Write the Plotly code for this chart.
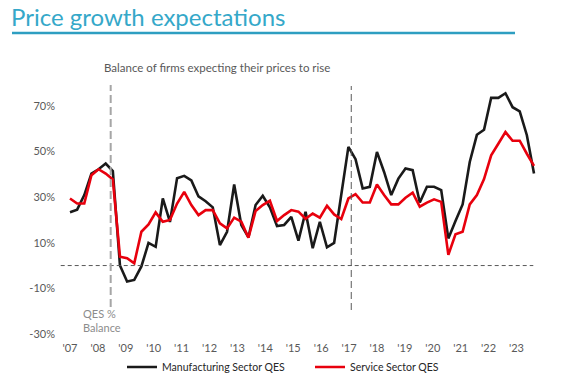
import plotly.graph_objects as go

# ---- Data (quarterly, from 2007) ----
manufacturing = [23.4, 24.5, 30.9, 40.3, 42.2, 44.7, 41.4, 0.0, -7.0, -6.3,
                 -0.4, 9.9, 8.2, 29.4, 19.1, 38.3, 39.3, 37.3, 30.3, 28.2,
                 25.5, 9.0, 14.8, 35.5, 17.8, 12.4, 26.5, 30.6, 25.5, 17.3,
                 17.8, 21.3, 10.9, 23.6, 7.6, 19.2, 8.0, 9.9, 31.0, 52.0,
                 46.6, 33.8, 34.5, 49.8, 41.0, 30.9, 38.1, 42.5, 41.8, 27.6,
                 34.5, 34.5, 33.1, 11.9, 19.5, 26.8, 45.4, 57.3, 59.5, 73.5,
                 73.5, 75.5, 69.4, 67.6, 57.1, 40.3]
services = [29.4, 27.2, 27.2, 39.6, 42.2, 40.3, 37.7, 3.9, 3.2, 1.0,
            14.8, 18.0, 23.3, 19.2, 20.0, 27.2, 32.3, 26.5, 22.1, 24.3,
            24.3, 18.5, 16.3, 21.0, 19.2, 12.2, 23.9, 26.5, 28.4, 19.5,
            22.1, 24.3, 23.6, 20.5, 22.8, 21.0, 26.2, 22.4, 20.4, 29.4,
            31.3, 27.6, 27.6, 35.5, 30.9, 26.8, 26.8, 29.7, 31.9, 25.8,
            27.6, 29.0, 27.9, 4.7, 13.7, 14.8, 26.8, 30.9, 37.9, 48.3,
            53.4, 58.5, 54.7, 54.7, 49.0, 43.7]
quarters = list(range(len(manufacturing)))

year_labels = ["'07", "'08", "'09", "'10", "'11", "'12", "'13", "'14", "'15",
               "'16", "'17", "'18", "'19", "'20", "'21", "'22", "'23"]
y_tick_values = [-30, -10, 10, 30, 50, 70]
y_tick_labels = ["-30%", "-10%", "10%", "30%", "50%", "70%"]

series_names = ["Manufacturing Sector QES", "Service Sector QES"]
series_colors = ["#1A1A1A", "#E8000D"]

# ---- Layout helpers (body margin removed by post_script) ----
W, H = 583, 390
L, R, T, B = 60, 43, 83, 56
PW, PH = W - L - R, H - T - B
px_per_q = 7.138
year_step_q = 3.909


def px_x(px):
    return (px - L) / PW


def px_y(py):
    return (H - B - py) / PH


fig = go.Figure()
for name, vals, col in zip(series_names, [manufacturing, services], series_colors):
    fig.add_trace(go.Scatter(x=quarters, y=vals, mode="lines", name=name,
                             line=dict(color=col, width=2.6)))

x_min = -(70 - L) / px_per_q
x_max = quarters[-1] + 6 / px_per_q

# zero reference line
fig.add_shape(type="line", xref="x", yref="y", x0=x_min + 0.1, x1=quarters[-1] - 0.1,
              y0=0, y1=0, line=dict(color="#595959", width=1, dash="4px,3px"))
# QES balance marker line
fig.add_shape(type="line", xref="x", yref="paper", x0=5.7, x1=5.7,
              y0=px_y(307), y1=px_y(85),
              line=dict(color="#A6A6A6", width=2, dash="8px,4px"))
# 2017 marker line
fig.add_shape(type="line", xref="x", yref="paper", x0=39.4, x1=39.4,
              y0=px_y(310), y1=px_y(86),
              line=dict(color="#595959", width=1, dash="7px,4px"))
# title underline
fig.add_shape(type="line", xref="paper", yref="paper", x0=px_x(12), x1=px_x(515),
              y0=px_y(33), y1=px_y(33), line=dict(color="#2E9EC1", width=2.5))

fig.add_annotation(text="Price growth expectations", xref="paper", yref="paper",
                   x=px_x(9), y=px_y(16), xanchor="left", yanchor="middle",
                   showarrow=False, font=dict(family="Lato", size=24, color="#35A8C9"))
fig.add_annotation(text="Balance of firms expecting their prices to rise", xref="paper",
                   yref="paper", x=px_x(217), y=px_y(67), xanchor="center",
                   yanchor="middle", showarrow=False,
                   font=dict(family="Lato", size=11.5, color="#595959"))
fig.add_annotation(text="QES %<br>Balance", xref="paper", yref="paper", x=px_x(81),
                   y=px_y(320), xanchor="left", yanchor="middle", align="left",
                   showarrow=False, font=dict(family="Lato", size=11, color="#8C8C8C"))

fig.update_layout(
    width=W, height=H,
    margin=dict(l=L, r=R, t=T, b=B, autoexpand=False),
    paper_bgcolor="white", plot_bgcolor="white",
    font=dict(family="Lato", color="#595959", size=11),
    showlegend=True,
    legend=dict(orientation="h", x=px_x(122), y=px_y(367), xanchor="left",
                yanchor="middle", entrywidth=143, itemwidth=30,
                font=dict(family="Lato", size=10.5, color="#262626")),
    xaxis=dict(range=[x_min, x_max], showgrid=False, zeroline=False, showline=False,
               automargin=False, tickmode="array",
               tickvals=[i * year_step_q for i in range(len(year_labels))],
               ticktext=year_labels, ticks="", fixedrange=True, ticklabelstandoff=6,
               tickfont=dict(size=11, color="#595959")),
    yaxis=dict(range=[-30, 80], showgrid=False, zeroline=False, showline=False,
               automargin=False, tickmode="array", tickvals=y_tick_values,
               ticktext=y_tick_labels, ticks="", ticklabelstandoff=4,
               tickfont=dict(size=11, color="#595959")),
)

fig.write_html("out.html", config={"displayModeBar": False},
               post_script="document.body.style.margin='0px';")
